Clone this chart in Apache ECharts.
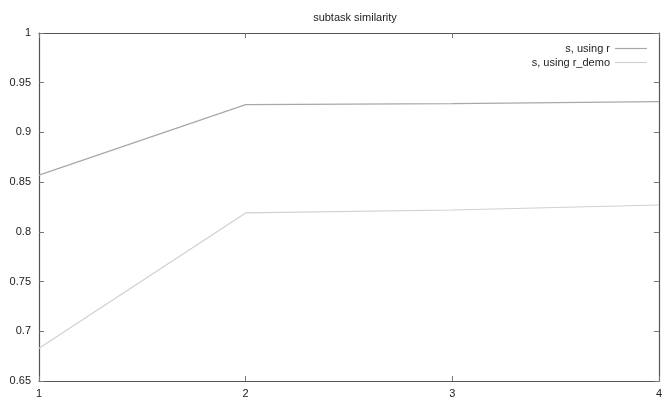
<!DOCTYPE html>
<html>
<head>
<meta charset="utf-8">
<script src="https://cdn.jsdelivr.net/npm/echarts@6/dist/echarts.min.js"></script>
<style>html,body{margin:0;padding:0;background:#fff}#c{width:665px;height:400px}</style>
</head>
<body>
<div id="c"></div>
<script>
var titleText = 'subtask similarity';
var xValues = [1, 2, 3, 4];
var seriesNames = ['s, using r', 's, using r_demo'];
var sUsingR = [0.857, 0.928, 0.929, 0.931];
var sUsingRDemo = [0.683, 0.819, 0.822, 0.827];
var yTicks = [0.65, 0.7, 0.75, 0.8, 0.85, 0.9, 0.95, 1];

function pairs(xs, ys) { return xs.map(function (x, i) { return [x, ys[i]]; }); }

var chart = echarts.init(document.getElementById('c'), null, {renderer: 'canvas'});
var font = 'Liberation Sans, Arial, sans-serif';
var axisLine = {show: true, lineStyle: {color: '#555', width: 1.2}};
var tickStyle = {show: true, inside: true, length: 5, lineStyle: {color: '#777', width: 1}};
chart.setOption({
  animation: false,
  backgroundColor: '#fff',
  title: {text: titleText, left: 350, top: 7, textAlign: 'center',
    textStyle: {fontFamily: font, fontSize: 11, fontWeight: 'normal', color: '#222'}},
  legend: {
    orient: 'vertical', right: 13, top: 38, align: 'right', itemGap: 3,
    itemWidth: 32, itemHeight: 1.2, icon: 'rect',
    textStyle: {fontFamily: font, fontSize: 11, color: '#222'},
    data: seriesNames
  },
  grid: {left: 39, right: 4, top: 33, bottom: 19, containLabel: false},
  xAxis: [
    {type: 'value', min: 1, max: 4, interval: 1, position: 'bottom',
     axisLine: axisLine, axisTick: tickStyle, splitLine: {show: false},
     axisLabel: {fontFamily: font, fontSize: 11, color: '#222', margin: 7}},
    {type: 'value', min: 1, max: 4, interval: 1, position: 'top',
     axisLine: axisLine, axisTick: tickStyle, splitLine: {show: false}, axisLabel: {show: false}}
  ],
  yAxis: [
    {type: 'value', min: 0.65, max: 1, interval: 0.05, position: 'left',
     axisLine: axisLine, axisTick: tickStyle, splitLine: {show: false},
     axisLabel: {fontFamily: font, fontSize: 11, color: '#222', margin: 8,
       formatter: function (v) { return String(Math.round(v * 100) / 100); }}},
    {type: 'value', min: 0.65, max: 1, interval: 0.05, position: 'right',
     axisLine: axisLine, axisTick: tickStyle, splitLine: {show: false}, axisLabel: {show: false}}
  ],
  series: [
    {name: seriesNames[0], type: 'line', data: pairs(xValues, sUsingR), symbol: 'none',
     lineStyle: {color: '#a8a8a8', width: 1.2}, itemStyle: {color: '#a8a8a8'}},
    {name: seriesNames[1], type: 'line', data: pairs(xValues, sUsingRDemo), symbol: 'none',
     lineStyle: {color: '#d0d0d0', width: 1.2}, itemStyle: {color: '#d0d0d0'}}
  ]
});
</script>
</body>
</html>
